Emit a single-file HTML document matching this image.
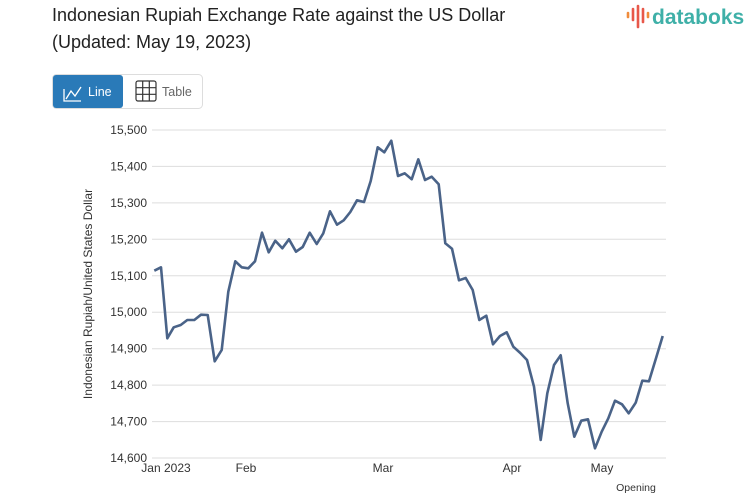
<!DOCTYPE html>
<html><head><meta charset="utf-8"><style>
body{margin:0;background:#fff;width:753px;height:498px;overflow:hidden;font-family:"Liberation Sans",sans-serif;}
</style></head><body>
<svg width="753" height="498" xmlns="http://www.w3.org/2000/svg" font-family="Liberation Sans, sans-serif">
<text x="52" y="21" font-size="18" fill="#222">Indonesian Rupiah Exchange Rate against the US Dollar</text>
<text x="52" y="48" font-size="18" fill="#222">(Updated: May 19, 2023)</text>
<g stroke-linecap="round" stroke-width="2.6">
<line x1="628" y1="13" x2="628" y2="17" stroke="#f08c3c"/>
<line x1="633" y1="9" x2="633" y2="20" stroke="#e8584a"/>
<line x1="638" y1="6" x2="638" y2="27" stroke="#e8584a"/>
<line x1="643" y1="9" x2="643" y2="22" stroke="#e8584a"/>
<line x1="648" y1="13" x2="648" y2="17" stroke="#f08c3c"/>
</g>
<text x="652" y="24" font-size="21" fill="#3fb0a8" font-weight="bold">databoks</text>
<rect x="52.5" y="74.5" width="150" height="34" rx="4" fill="#fff" stroke="#ddd"/>
<rect x="53" y="75" width="70" height="33" rx="3" fill="#2a7ab8"/>
<polyline points="64,89 64,101 81,101" fill="none" stroke="#fff" stroke-width="1.3"/>
<polyline points="66,99 71,91 75,96 81,87" fill="none" stroke="#fff" stroke-width="1.3"/>
<text x="88" y="96" font-size="12.5" fill="#fff">Line</text>
<g stroke="#333" stroke-width="1.2" fill="none">
<rect x="136" y="81" width="20" height="20" rx="2"/>
<line x1="142.7" y1="81" x2="142.7" y2="101"/><line x1="149.3" y1="81" x2="149.3" y2="101"/>
<line x1="136" y1="87.7" x2="156" y2="87.7"/><line x1="136" y1="94.3" x2="156" y2="94.3"/>
</g>
<text x="162" y="96" font-size="12.5" fill="#666">Table</text>
<g stroke="#ddd" stroke-width="1">
<line x1="152" y1="130" x2="666" y2="130"/><line x1="152" y1="166.4" x2="666" y2="166.4"/>
<line x1="152" y1="202.9" x2="666" y2="202.9"/><line x1="152" y1="239.3" x2="666" y2="239.3"/>
<line x1="152" y1="275.8" x2="666" y2="275.8"/><line x1="152" y1="312.2" x2="666" y2="312.2"/>
<line x1="152" y1="348.7" x2="666" y2="348.7"/><line x1="152" y1="385.1" x2="666" y2="385.1"/>
<line x1="152" y1="421.6" x2="666" y2="421.6"/><line x1="152" y1="458" x2="666" y2="458"/>
</g>
<g font-size="12" fill="#333" text-anchor="end">
<text x="147" y="134">15,500</text><text x="147" y="170.4">15,400</text><text x="147" y="206.9">15,300</text>
<text x="147" y="243.3">15,200</text><text x="147" y="279.8">15,100</text><text x="147" y="316.2">15,000</text>
<text x="147" y="352.7">14,900</text><text x="147" y="389.1">14,800</text><text x="147" y="425.6">14,700</text>
<text x="147" y="462">14,600</text>
</g>
<text transform="translate(92,294) rotate(-90)" font-size="12" fill="#333" text-anchor="middle">Indonesian Rupiah/United States Dollar</text>
<g font-size="12" fill="#333" text-anchor="middle">
<text x="166" y="472">Jan 2023</text><text x="246" y="472">Feb</text><text x="383" y="472">Mar</text>
<text x="512" y="472">Apr</text><text x="602" y="472">May</text>
</g>
<text x="636" y="491" font-size="10.5" fill="#333" text-anchor="middle">Opening</text>
<polyline fill="none" stroke="#4a6388" stroke-width="2.6" stroke-linejoin="round" points="154.3,270.7 161,267.3 167.3,338.3 173.7,327.3 180.7,325 187.3,320 194.3,320 201,314.7 207.7,315 214.7,361.3 221.7,350 228.3,291.7 235.3,261.3 241.7,267.3 248.3,268.3 255,261.3 262,232.7 268.7,252.3 275.3,240.7 282.3,248.3 289,239.3 296,251.7 302.7,247 309.7,232.7 316.7,244 323.3,233.3 330,211.3 337,224.7 343.7,220.3 350.3,212 357,200.3 364,202 370.7,181 377.7,147.3 384.3,152.3 391.3,140.7 398,176 404.7,173.3 411.7,179.3 418.3,159.3 425,180 431.7,176.7 438.7,184.3 445.3,243.3 452,248.7 459,280.3 465.7,278 472.7,290 479.3,320 486.3,315.7 493,344.3 500,336 506.7,332.3 513.3,346.7 520.3,353 527,360 534,386.7 540.7,440 547.3,393.3 554,365 560.7,355.3 567.7,403.3 574.3,436.7 581.3,420.7 588,419.3 595,448.3 601.7,431.7 608.3,418.3 615,400.7 622,404.3 628.7,413.3 635.7,402.7 642.3,380.7 649,381.3 656,358.3 662.7,336"/>
</svg>
</body></html>
